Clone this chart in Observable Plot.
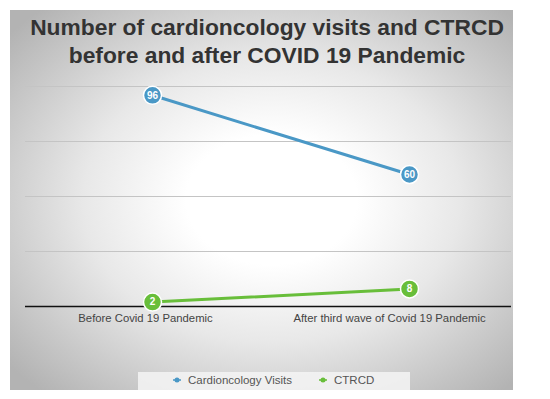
<!DOCTYPE html>
<html>
<head>
<meta charset="utf-8">
<script src="https://cdn.jsdelivr.net/npm/d3@7"></script>
<script src="https://cdn.jsdelivr.net/npm/@observablehq/plot@0.6"></script>
<style>
  html, body { margin: 0; padding: 0; background: #fff; }
  #wrap { position: relative; width: 550px; height: 399px; overflow: hidden; font-family: "Liberation Sans", Arial, sans-serif; }
  #panel { position: absolute; left: 10px; top: 10px; width: 503px; height: 380px;
    background: radial-gradient(ellipse 68% 68% at 52% 50%, #ffffff 25%, #e8e8e8 55%, #b3b3b3 100%); }
  #title { position: absolute; left: 10px; top: 13px; width: 514px; text-align: center;
    font-weight: bold; font-size: 22.8px; line-height: 28px; color: #333; }
  #chart { position: absolute; left: 0; top: 0; }
  #legend { position: absolute; left: 138px; top: 372px; width: 272px; height: 18px;
    background: rgba(245,245,245,0.85); font-size: 11.5px; color: #555; }
  .item { position: absolute; top: 2px; display: flex; align-items: center; gap: 6px; }
</style>
</head>
<body>
<div id="wrap">
  <div id="panel"></div>
  <div id="title">Number of cardioncology visits and CTRCD<br>before and after COVID 19 Pandemic</div>
  <div id="chart"></div>
  <div id="legend"></div>
</div>
<script>
const categories = ["Before Covid 19 Pandemic", "After third wave of Covid 19 Pandemic"];
const seriesNames = ["Cardioncology Visits", "CTRCD"];
const visits = [96, 60];
const ctrcd = [2, 8];
const yTicks = [0, 25, 50, 75, 100];
const colors = ["#4a98c6", "#68be3a"];

const data = [];
categories.forEach((c, i) => {
  data.push({category: c, series: seriesNames[0], value: visits[i]});
  data.push({category: c, series: seriesNames[1], value: ctrcd[i]});
});

const plot = Plot.plot({
  width: 550,
  height: 340,
  marginLeft: 25,
  marginRight: 39,
  marginTop: 86,
  marginBottom: 34,
  style: {background: "transparent", fontFamily: "Liberation Sans, Arial, sans-serif"},
  x: {type: "point", domain: categories, range: [152, 409], padding: 0, axis: null},
  y: {domain: [0, 100], axis: null},
  color: {domain: seriesNames, range: colors},
  marks: [
    Plot.ruleY(yTicks.filter(d => d > 0), {stroke: "#c4c4c4", strokeWidth: 1}),
    Plot.ruleY([0], {stroke: "#111", strokeWidth: 1.5}),
    Plot.line(data, {x: "category", y: "value", z: "series", stroke: "series", strokeWidth: 3}),
    Plot.dot(data, {x: "category", y: "value", fill: "series", r: 9, stroke: "white", strokeWidth: 1.5}),
    Plot.text(data, {x: "category", y: "value", text: d => String(d.value), fill: "white", fontSize: 10, fontWeight: "bold"}),
    Plot.text([categories[0]], {x: d => d, y: 0, text: d => d, dy: 12, dx: -7, fontSize: 11.3, fill: "#444"}),
    Plot.text([categories[1]], {x: d => d, y: 0, text: d => d, dy: 12, dx: -20, fontSize: 11.3, fill: "#444"})
  ]
});
document.getElementById("chart").appendChild(plot);

const legend = document.getElementById("legend");
const lx = [34, 180];
seriesNames.forEach((s, i) => {
  const it = document.createElement("div");
  it.className = "item";
  it.style.left = lx[i] + "px";
  it.innerHTML = `<svg width="10" height="10"><line x1="1" x2="9" y1="5" y2="5" stroke="${colors[i]}" stroke-width="1.5"/><circle cx="5" cy="5" r="2.5" fill="${colors[i]}"/></svg><span>${s}</span>`;
  legend.appendChild(it);
});
</script>
</body>
</html>
